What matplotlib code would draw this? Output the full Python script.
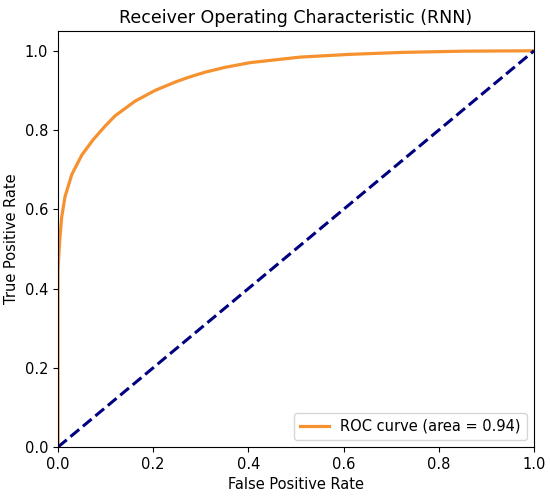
import matplotlib
matplotlib.use('Agg')
import matplotlib.pyplot as plt

# ROC curve points
fpr = [0.0, 0.0, 0.0007, 0.0035, 0.0077, 0.0147, 0.029, 0.050, 0.074, 0.099,
       0.120, 0.162, 0.204, 0.246, 0.274, 0.309, 0.35, 0.403, 0.508, 0.613,
       0.725, 0.85, 1.0]
tpr = [0.0, 0.44, 0.463, 0.521, 0.580, 0.632, 0.688, 0.737, 0.776, 0.810,
       0.836, 0.873, 0.900, 0.921, 0.933, 0.946, 0.958, 0.970, 0.984, 0.991,
       0.996, 0.999, 1.0]
roc_auc = 0.94
chance = [0, 1]

fig = plt.figure(figsize=(5.5, 4.98), dpi=100)
ax = fig.add_axes([0.1055, 0.1024, 0.8655, 0.8354])

ax.plot(fpr, tpr, color='#f5922f', lw=2.3, label='ROC curve (area = %0.2f)' % roc_auc)
ax.plot(chance, chance, color='navy', lw=2.2, linestyle='--')
ax.set_xlim([0.0, 1.0])
ax.set_ylim([0.0, 1.05])
ax.set_xlabel('False Positive Rate', fontsize=10.5)
ax.set_ylabel('True Positive Rate', fontsize=10.5)
ax.set_title('Receiver Operating Characteristic (RNN)', fontsize=12.5)
ax.tick_params(labelsize=10.5)
ax.legend(loc='lower right', fontsize=10.5)

fig.savefig('out.png', dpi=100)
